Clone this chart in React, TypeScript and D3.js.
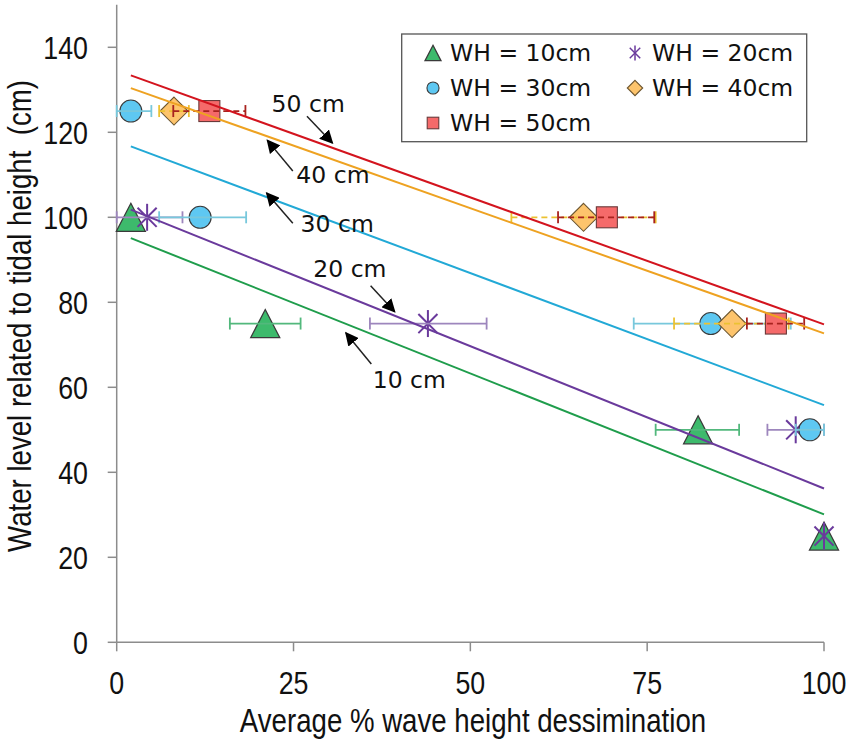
import React from "react"
import { scaleLinear, line } from "d3"

// series (x = avg % wave height dissipation, y = water level)
const labels = ["WH = 10cm", "WH = 20cm", "WH = 30cm", "WH = 40cm", "WH = 50cm"]
const shapes = ["triangle", "star", "circle", "diamond", "square"]
const fills = ["#3dba6c", "none", "#5ec8f2", "#fdc46c", "#f56a6a"]
const lineColors = ["#1f9d4c", "#6a3a9c", "#22a9d6", "#eea221", "#d3141e"]
const errColors = ["#52b87c", "#9d86bd", "#78c8dc", "#ecc232", "#a8221e"]
const errDashed = [false, false, false, true, true]

// [x, y, errLow, errHigh]
const wh10 = [[2, 100, 2, 2], [21, 75, 16, 26], [82.2, 50, 76.2, 88], [100, 25, 100, 100]]
const wh20 = [[4.3, 100, 0, 9.3], [44, 75, 35.8, 52.3], [96, 50, 92, 100], [100, 25, 100, 100]]
const wh30 = [[2, 125, 0, 4.9], [11.8, 100, 6, 18.3], [84, 75, 73.1, 95.3], [98, 50, 96, 100]]
const wh40 = [[8.1, 125, 6, 10.2], [66, 100, 55.8, 76.2], [87, 75, 78.8, 95]]
const wh50 = [[13.1, 125, 8, 18.2], [69.3, 100, 62.4, 76], [93.2, 75, 89.1, 97.2]]
const series = [wh10, wh20, wh30, wh40, wh50]

// linear trend lines, value at x = 2 and x = 100
const trendX = [2, 100]
const trends = [
  [95.1, 30.1],
  [101.8, 36.2],
  [116.7, 55.8],
  [130.4, 72.7],
  [133.4, 74.8],
]

// annotation: label, text x, baseline y, arrow tail, arrow tip
const notes = [
  { text: "50 cm", x: 21.9, y: 124.8, tail: [26.9, 123.8], tip: [30.5, 117.5] },
  { text: "40 cm", x: 25.4, y: 108.0, tail: [24.9, 110.9], tip: [21.3, 118.1] },
  { text: "30 cm", x: 26.0, y: 96.6, tail: [24.9, 98.6], tip: [21.2, 105.7] },
  { text: "20 cm", x: 27.8, y: 85.9, tail: [35.9, 83.9], tip: [39.3, 77.8] },
  { text: "10 cm", x: 36.2, y: 59.8, tail: [36.0, 65.5], tip: [32.4, 72.8] },
]

const xTicks = [0, 25, 50, 75, 100]
const yTicks = [0, 20, 40, 60, 80, 100, 120, 140]

const W = 848
const H = 744
const axisFont = "'Liberation Sans', Arial, sans-serif"
const narrow = 0.85 // squeeze the axis font to look like the original narrow face
const noteFont = "'DejaVu Sans', Verdana, sans-serif"

const x = scaleLinear().domain([0, 100]).range([116.7, 824])
const y = scaleLinear().domain([0, 150]).range([642.3, 4.8])

const Marker: React.FC<{ kind: string; cx: number; cy: number; i: number; s?: number }> = ({
  kind,
  cx,
  cy,
  i,
  s = 1,
}) => {
  const stroke = "#3a3a3a"
  if (kind === "triangle") {
    const w = 29 * s
    const h = 28 * s
    const d = `M${cx},${cy - h / 2}L${cx + w / 2},${cy + h / 2}L${cx - w / 2},${cy + h / 2}Z`
    return <path d={d} fill={fills[i]} stroke={stroke} strokeWidth={1.3} />
  }
  if (kind === "circle") {
    return <circle cx={cx} cy={cy} r={11 * s} fill={fills[i]} stroke={stroke} strokeWidth={1.1} />
  }
  if (kind === "diamond") {
    const r = 14 * s
    const d = `M${cx},${cy - r}L${cx + r},${cy}L${cx},${cy + r}L${cx - r},${cy}Z`
    return <path d={d} fill={fills[i]} stroke="#6b5530" strokeWidth={1.1} />
  }
  if (kind === "square") {
    const r = 10.5 * s
    return <rect x={cx - r} y={cy - r} width={2 * r} height={2 * r} fill={fills[i]} stroke="#6a3a3a" strokeWidth={1.1} />
  }
  // star: vertical bar plus an X
  const r = 13.5 * s
  const a = r * Math.sin(Math.PI / 4)
  return (
    <g stroke={lineColors[i]} strokeWidth={s < 1 ? 1.5 : 2}>
      <line x1={cx} y1={cy - r} x2={cx} y2={cy + r} />
      <line x1={cx - a} y1={cy - a} x2={cx + a} y2={cy + a} />
      <line x1={cx - a} y1={cy + a} x2={cx + a} y2={cy - a} />
    </g>
  )
}

const AxisText: React.FC<{ tx: number; ty: number; size: number; anchor: string; rotate?: number; children: React.ReactNode }> = ({
  tx,
  ty,
  size,
  anchor,
  rotate = 0,
  children,
}) => (
  <text
    transform={`translate(${tx},${ty}) rotate(${rotate}) scale(${narrow},1)`}
    dy="0.36em"
    textAnchor={anchor}
    fontFamily={axisFont}
    fontSize={size}
    fill="#111"
    style={{ whiteSpace: "pre" }}
  >
    {children}
  </text>
)

const App: React.FC = () => {
  const trendLine = line<number>()
    .x((_, k) => x(trendX[k]))
    .y((d) => y(d))

  const legendRows = [53, 88, 123]
  const legendCols = [433, 635]

  return (
    <svg width={W} height={H} style={{ position: "absolute", left: 0, top: 0, background: "#fff" }}>
      <defs>
        <marker id="head" viewBox="0 0 10 10" refX="9" refY="5" markerWidth="9" markerHeight="9" orient="auto">
          <path d="M0,0L10,5L0,10Z" fill="#000" />
        </marker>
      </defs>

      {/* axes */}
      <line x1={x(0)} x2={x(0)} y1={y(150)} y2={y(0)} stroke="#8c8c8c" strokeWidth={1.5} />
      <line x1={x(0)} x2={x(100)} y1={y(0)} y2={y(0)} stroke="#8c8c8c" strokeWidth={1.5} />
      {yTicks.map((t) => (
        <g key={`y${t}`}>
          <line x1={x(0) - 9} x2={x(0)} y1={y(t)} y2={y(t)} stroke="#8c8c8c" strokeWidth={1.5} />
          <AxisText tx={88} ty={y(t)} size={31.5} anchor="end">
            {t}
          </AxisText>
        </g>
      ))}
      {xTicks.map((t) => (
        <g key={`x${t}`}>
          <line x1={x(t)} x2={x(t)} y1={y(0)} y2={y(0) + 9} stroke="#8c8c8c" strokeWidth={1.5} />
          <AxisText tx={x(t)} ty={683} size={31.5} anchor="middle">
            {t}
          </AxisText>
        </g>
      ))}
      <AxisText tx={473} ty={720} size={32.5} anchor="middle">
        Average % wave height dessimination
      </AxisText>
      <AxisText tx={19} ty={316} size={32.5} anchor="middle" rotate={-90}>
        {"Water level related to tidal height  (cm)"}
      </AxisText>

      {/* markers and error bars */}
      {series.map((pts, i) => (
        <g key={labels[i]}>
          {pts.map(([px, py, lo, hi], j) => (
            <g key={j}>
              <Marker kind={shapes[i]} cx={x(px)} cy={y(py)} i={i} />
              {hi > lo && (
                <g stroke={errColors[i]} strokeWidth={1.8}>
                  <line
                    x1={x(lo)}
                    x2={x(hi)}
                    y1={y(py)}
                    y2={y(py)}
                    strokeDasharray={errDashed[i] ? "6 4" : undefined}
                  />
                  <line x1={x(lo)} x2={x(lo)} y1={y(py) - 6} y2={y(py) + 6} />
                  <line x1={x(hi)} x2={x(hi)} y1={y(py) - 6} y2={y(py) + 6} />
                </g>
              )}
            </g>
          ))}
        </g>
      ))}

      {/* trend lines */}
      {trends.map((t, i) => (
        <path key={`t${i}`} d={trendLine(t) ?? ""} fill="none" stroke={lineColors[i]} strokeWidth={2} />
      ))}

      {/* annotations */}
      {notes.map((n) => (
        <g key={n.text}>
          <text x={x(n.x)} y={y(n.y)} fontFamily={noteFont} fontSize={23.5} fill="#111">
            {n.text}
          </text>
          <line
            x1={x(n.tail[0])}
            y1={y(n.tail[1])}
            x2={x(n.tip[0])}
            y2={y(n.tip[1])}
            stroke="#222"
            strokeWidth={1.5}
            markerEnd="url(#head)"
          />
        </g>
      ))}

      {/* legend */}
      <rect x={401.7} y={34} width={405} height={107.7} fill="#fff" stroke="#555" strokeWidth={1.3} />
      {labels.map((lab, i) => {
        const col = i === 4 ? 0 : i % 2
        const row = Math.floor(i / 2)
        const cx = legendCols[col]
        const cy = legendRows[row]
        return (
          <g key={`l${i}`}>
            <Marker kind={shapes[i]} cx={cx} cy={cy} i={i} s={0.55} />
            <text x={cx + 17} y={cy} dy="0.36em" fontFamily={noteFont} fontSize={23.5} fill="#111">
              {lab}
            </text>
          </g>
        )
      })}
    </svg>
  )
}

export default App
